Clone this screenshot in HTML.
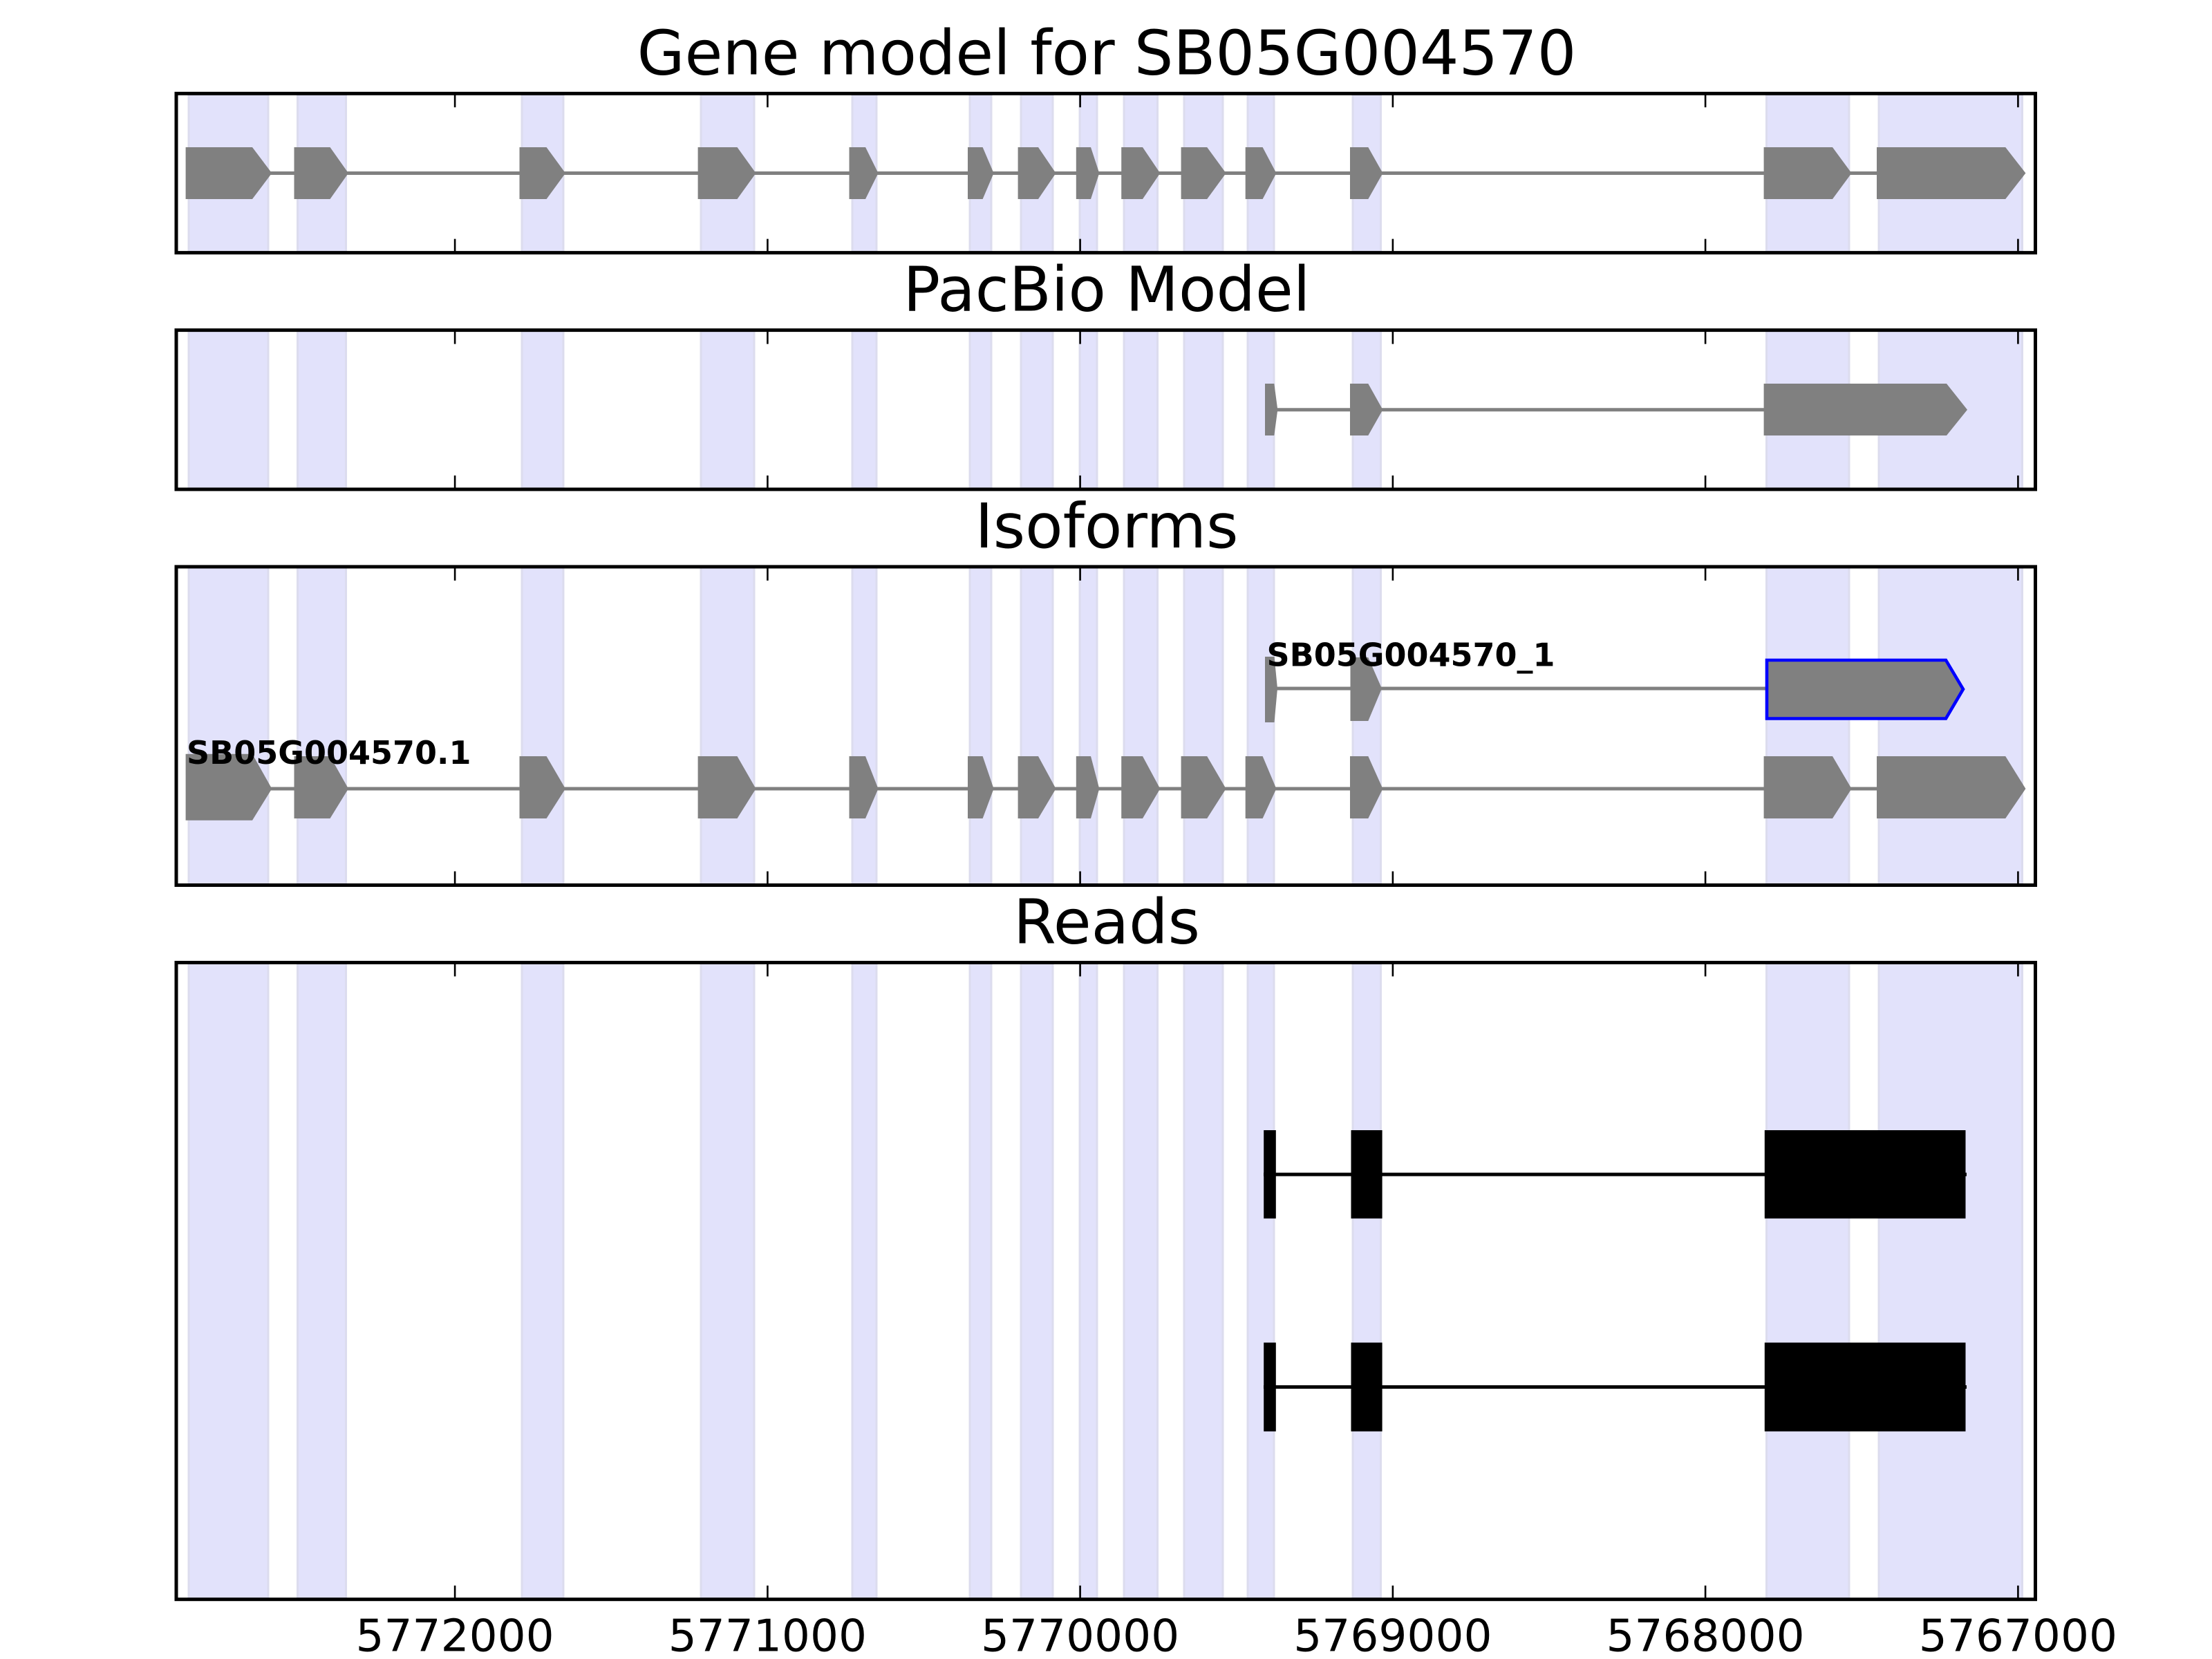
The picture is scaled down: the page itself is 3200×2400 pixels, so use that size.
<!DOCTYPE html>
<html><head><meta charset="utf-8"><style>
html,body{margin:0;padding:0;background:#fff;}
svg{display:block;}
text{font-family:"DejaVu Sans","Liberation Sans",sans-serif;}
</style></head><body>
<svg width="3200" height="2400" viewBox="0 0 3200 2400" xmlns="http://www.w3.org/2000/svg">
<rect x="0" y="0" width="3200" height="2400" fill="#fff"/>

<!-- spans for each axis -->
<g fill="#E2E2FB" stroke="#DCDCEE" stroke-width="3">
  <g>
  <rect x="273" y="137" width="115" height="227"/><rect x="430.5" y="137" width="70" height="227"/><rect x="755" y="137" width="60" height="227"/><rect x="1014" y="137" width="77" height="227"/><rect x="1233" y="137" width="35" height="227"/><rect x="1403" y="137" width="31" height="227"/><rect x="1477" y="137" width="46" height="227"/><rect x="1562" y="137" width="25" height="227"/><rect x="1626" y="137" width="48.5" height="227"/><rect x="1713" y="137" width="56" height="227"/><rect x="1805" y="137" width="38" height="227"/><rect x="1957" y="137" width="40.5" height="227"/><rect x="2555.5" y="137" width="119.5" height="227"/><rect x="2718" y="137" width="207.5" height="227"/>
  </g>
  <g>
  <rect x="273" y="479" width="115" height="227"/><rect x="430.5" y="479" width="70" height="227"/><rect x="755" y="479" width="60" height="227"/><rect x="1014" y="479" width="77" height="227"/><rect x="1233" y="479" width="35" height="227"/><rect x="1403" y="479" width="31" height="227"/><rect x="1477" y="479" width="46" height="227"/><rect x="1562" y="479" width="25" height="227"/><rect x="1626" y="479" width="48.5" height="227"/><rect x="1713" y="479" width="56" height="227"/><rect x="1805" y="479" width="38" height="227"/><rect x="1957" y="479" width="40.5" height="227"/><rect x="2555.5" y="479" width="119.5" height="227"/><rect x="2718" y="479" width="207.5" height="227"/>
  </g>
  <g>
  <rect x="273" y="821" width="115" height="458"/><rect x="430.5" y="821" width="70" height="458"/><rect x="755" y="821" width="60" height="458"/><rect x="1014" y="821" width="77" height="458"/><rect x="1233" y="821" width="35" height="458"/><rect x="1403" y="821" width="31" height="458"/><rect x="1477" y="821" width="46" height="458"/><rect x="1562" y="821" width="25" height="458"/><rect x="1626" y="821" width="48.5" height="458"/><rect x="1713" y="821" width="56" height="458"/><rect x="1805" y="821" width="38" height="458"/><rect x="1957" y="821" width="40.5" height="458"/><rect x="2555.5" y="821" width="119.5" height="458"/><rect x="2718" y="821" width="207.5" height="458"/>
  </g>
  <g>
  <rect x="273" y="1394" width="115" height="918"/><rect x="430.5" y="1394" width="70" height="918"/><rect x="755" y="1394" width="60" height="918"/><rect x="1014" y="1394" width="77" height="918"/><rect x="1233" y="1394" width="35" height="918"/><rect x="1403" y="1394" width="31" height="918"/><rect x="1477" y="1394" width="46" height="918"/><rect x="1562" y="1394" width="25" height="918"/><rect x="1626" y="1394" width="48.5" height="918"/><rect x="1713" y="1394" width="56" height="918"/><rect x="1805" y="1394" width="38" height="918"/><rect x="1957" y="1394" width="40.5" height="918"/><rect x="2555.5" y="1394" width="119.5" height="918"/><rect x="2718" y="1394" width="207.5" height="918"/>
  </g>
</g>

<!-- Axis 1: gene model -->
<line x1="270" y1="250.5" x2="2716" y2="250.5" stroke="#808080" stroke-width="5"/>
<g fill="#808080">
<polygon points="268.6,213 365,213 393.3,250.5 365,288 268.6,288"/>
<polygon points="425.5,213 477.5,213 504,250.5 477.5,288 425.5,288"/>
<polygon points="751.5,213 790.6,213 818,250.5 790.6,288 751.5,288"/>
<polygon points="1009.6,213 1066.5,213 1093.5,250.5 1066.5,288 1009.6,288"/>
<polygon points="1228.5,213 1252,213 1270.5,250.5 1252,288 1228.5,288"/>
<polygon points="1400,213 1421.6,213 1437.6,250.5 1421.6,288 1400,288"/>
<polygon points="1472.6,213 1502,213 1527.5,250.5 1502,288 1472.6,288"/>
<polygon points="1556.8,213 1578,213 1590.3,250.5 1578,288 1556.8,288"/>
<polygon points="1622.2,213 1653,213 1678.3,250.5 1653,288 1622.2,288"/>
<polygon points="1708.6,213 1746.2,213 1773.6,250.5 1746.2,288 1708.6,288"/>
<polygon points="1801.7,213 1826.6,213 1846.4,250.5 1826.6,288 1801.7,288"/>
<polygon points="1953,213 1979.3,213 2000.4,250.5 1979.3,288 1953,288"/>
<polygon points="2551.6,213 2651,213 2678.6,250.5 2651,288 2551.6,288"/>
<polygon points="2715,213 2901.2,213 2930.4,250.5 2901.2,288 2715,288"/>
</g>

<!-- Axis 2: PacBio -->
<line x1="1845" y1="592.8" x2="2555" y2="592.8" stroke="#808080" stroke-width="5"/>
<g fill="#808080">
<polygon points="1830,555 1843.3,555 1848.3,592.8 1843.3,630 1830,630"/>
<polygon points="1953,555 1979.3,555 2000.4,592.8 1979.3,630 1953,630"/>
<polygon points="2551.6,555 2816,555 2846,592.8 2816,630 2551.6,630"/>
</g>

<!-- Axis 3: Isoforms -->
<line x1="1845" y1="996" x2="2558" y2="996" stroke="#808080" stroke-width="5"/>
<g fill="#808080">
<polygon points="1830,950 1843.5,950 1848,996 1843.5,1045 1830,1045"/>
<polygon points="1953.5,951 1979.3,951 1999,996 1979.3,1043 1953.5,1043"/>
</g>
<polygon points="2556,955 2815,955 2840,997 2815,1039.5 2556,1039.5" fill="#808080" stroke="#0000FF" stroke-width="4.6"/>
<line x1="270" y1="1141" x2="2716" y2="1141" stroke="#808080" stroke-width="5"/>
<g fill="#808080">
<polygon points="268.6,1090.7 365,1090.7 393.3,1141 365,1186.7 268.6,1186.7"/>
<polygon points="425.5,1094 477.5,1094 504,1141 477.5,1184 425.5,1184"/>
<polygon points="751.5,1094 790.6,1094 818,1141 790.6,1184 751.5,1184"/>
<polygon points="1009.6,1094 1066.5,1094 1093.5,1141 1066.5,1184 1009.6,1184"/>
<polygon points="1228.5,1094 1252,1094 1270.5,1141 1252,1184 1228.5,1184"/>
<polygon points="1400,1094 1421.6,1094 1437.6,1141 1421.6,1184 1400,1184"/>
<polygon points="1472.6,1094 1502,1094 1527.5,1141 1502,1184 1472.6,1184"/>
<polygon points="1556.8,1094 1578,1094 1590.3,1141 1578,1184 1556.8,1184"/>
<polygon points="1622.2,1094 1653,1094 1678.3,1141 1653,1184 1622.2,1184"/>
<polygon points="1708.6,1094 1746.2,1094 1773.6,1141 1746.2,1184 1708.6,1184"/>
<polygon points="1801.7,1094 1826.6,1094 1846.4,1141 1826.6,1184 1801.7,1184"/>
<polygon points="1953,1094 1979.3,1094 2000.4,1141 1979.3,1184 1953,1184"/>
<polygon points="2551.6,1094 2651,1094 2678.6,1141 2651,1184 2551.6,1184"/>
<polygon points="2715,1094 2901.2,1094 2930.4,1141 2901.2,1184 2715,1184"/>
</g>
<text x="1832.5" y="963.3" font-size="46" font-weight="bold" fill="#000">SB05G004570_1</text>
<text x="270" y="1105" font-size="46" font-weight="bold" fill="#000">SB05G004570.1</text>

<!-- Axis 4: Reads -->
<g fill="#000">
<line x1="1828" y1="1699" x2="2845" y2="1699" stroke="#000" stroke-width="5"/>
<rect x="1828.2" y="1635" width="17.6" height="127.7"/>
<rect x="1954.5" y="1635" width="45.1" height="127.7"/>
<rect x="2552.8" y="1635" width="290.7" height="127.7"/>
<line x1="1828" y1="2006.5" x2="2845" y2="2006.5" stroke="#000" stroke-width="5"/>
<rect x="1828.2" y="1942.3" width="17.6" height="128.4"/>
<rect x="1954.5" y="1942.3" width="45.1" height="128.4"/>
<rect x="2552.8" y="1942.3" width="290.7" height="128.4"/>
</g>

<!-- Ticks -->
<g stroke="#000" stroke-width="2.6">
  <path d="M658.1,135.3v20 M1110.4,135.3v20 M1562.6,135.3v20 M2014.9,135.3v20 M2467.1,135.3v20 M2919.4,135.3v20"/>
  <path d="M658.1,365.6v-20 M1110.4,365.6v-20 M1562.6,365.6v-20 M2014.9,365.6v-20 M2467.1,365.6v-20 M2919.4,365.6v-20"/>
  <path d="M658.1,477.6v20 M1110.4,477.6v20 M1562.6,477.6v20 M2014.9,477.6v20 M2467.1,477.6v20 M2919.4,477.6v20"/>
  <path d="M658.1,707.9v-20 M1110.4,707.9v-20 M1562.6,707.9v-20 M2014.9,707.9v-20 M2467.1,707.9v-20 M2919.4,707.9v-20"/>
  <path d="M658.1,819.9v20 M1110.4,819.9v20 M1562.6,819.9v20 M2014.9,819.9v20 M2467.1,819.9v20 M2919.4,819.9v20"/>
  <path d="M658.1,1280.5v-20 M1110.4,1280.5v-20 M1562.6,1280.5v-20 M2014.9,1280.5v-20 M2467.1,1280.5v-20 M2919.4,1280.5v-20"/>
  <path d="M658.1,1392.5v20 M1110.4,1392.5v20 M1562.6,1392.5v20 M2014.9,1392.5v20 M2467.1,1392.5v20 M2919.4,1392.5v20"/>
  <path d="M658.1,2313.7v-20 M1110.4,2313.7v-20 M1562.6,2313.7v-20 M2014.9,2313.7v-20 M2467.1,2313.7v-20 M2919.4,2313.7v-20"/>
</g>

<!-- Frames -->
<g fill="none" stroke="#000" stroke-width="5">
<rect x="255" y="135.3" width="2689.5" height="230.3"/>
<rect x="255" y="477.6" width="2689.5" height="230.3"/>
<rect x="255" y="819.9" width="2689.5" height="460.6"/>
<rect x="255" y="1392.5" width="2689.5" height="921.2"/>
</g>

<!-- Titles -->
<g font-size="89" fill="#000" text-anchor="middle">
<text x="1601" y="107.3">Gene model for SB05G004570</text>
<text x="1601" y="449.6">PacBio Model</text>
<text x="1601" y="791.9">Isoforms</text>
<text x="1601" y="1364.5">Reads</text>
</g>

<!-- Tick labels -->
<g font-size="64.5" fill="#000" text-anchor="middle">
<text x="658.1" y="2388.3">5772000</text>
<text x="1110.4" y="2388.3">5771000</text>
<text x="1562.6" y="2388.3">5770000</text>
<text x="2014.9" y="2388.3">5769000</text>
<text x="2467.1" y="2388.3">5768000</text>
<text x="2919.4" y="2388.3">5767000</text>
</g>
</svg>
</body></html>
